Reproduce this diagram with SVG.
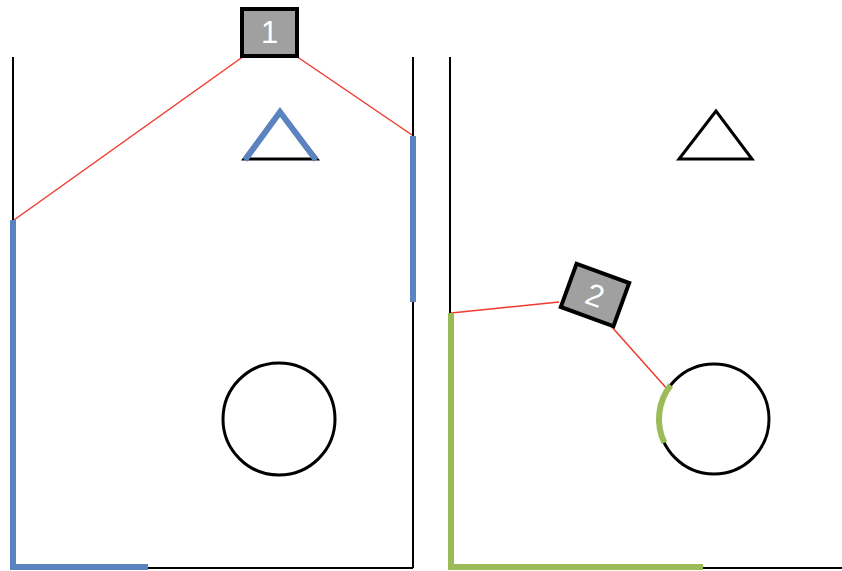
<svg xmlns="http://www.w3.org/2000/svg" width="842" height="571" viewBox="0 0 842 571">
<style>
.blk{stroke:#000;stroke-width:2;fill:none}
.shape{stroke:#000;stroke-width:3;fill:#fff}
.blue{stroke:#5a83c0;stroke-width:6;fill:none}
.green{stroke:#9bbb59;stroke-width:6;fill:none}
.red{stroke:#f03a2e;stroke-width:1.5;fill:none}
.box{fill:#a0a0a0;stroke:#000;stroke-width:4}
.lbl{font-family:"Liberation Sans",Arial,sans-serif;font-size:31px;fill:#fff;text-anchor:middle}
</style>
<rect width="842" height="571" fill="#fff"/>
<g id="walls">
<line class="blk" x1="13" y1="57" x2="13" y2="568"/>
<line class="blk" x1="413" y1="57" x2="413" y2="568"/>
<line class="blk" x1="13" y1="568" x2="413" y2="568"/>
<line class="blk" x1="450" y1="57" x2="450" y2="568"/>
<line class="blk" x1="450" y1="568" x2="842" y2="568"/>
</g>
<g id="triangle1"><polygon class="shape" points="280,111 244,159 317,159"/></g>
<g id="triangle2"><polygon class="shape" points="716,111 679,159 752,159"/></g>
<g id="circle1"><circle class="shape" cx="279" cy="419" r="56" fill="none"/></g>
<g id="circle2"><circle class="shape" cx="714" cy="419" r="55" fill="none"/></g>
<g id="connectors">
<line class="red" x1="244" y1="56" x2="14" y2="220"/>
<line class="red" x1="296" y1="56" x2="412" y2="135"/>
<line class="red" x1="451" y1="313" x2="559" y2="302"/>
<line class="red" x1="611" y1="326" x2="668" y2="390"/>
</g>
<g id="highlights">
<polyline class="blue" points="13,220 13,567 148,567"/>
<line class="blue" x1="413" y1="136" x2="413" y2="302"/>
<polyline class="blue" points="245,160 280,112 316,160"/>
<polyline class="green" points="451,313 451,567 703,567"/>
<path class="green" d="M670.7,385.1 A55,55 0 0 0 664.4,442.8"/>
</g>
<g id="node1">
<rect class="box" x="242" y="9" width="55" height="47"/>
<text class="lbl" x="269.5" y="43">1</text>
</g>
<g id="node2" transform="translate(595,295) rotate(20)">
<rect class="box" x="-28" y="-23" width="56" height="46"/>
<text class="lbl" x="0" y="11">2</text>
</g>
</svg>
